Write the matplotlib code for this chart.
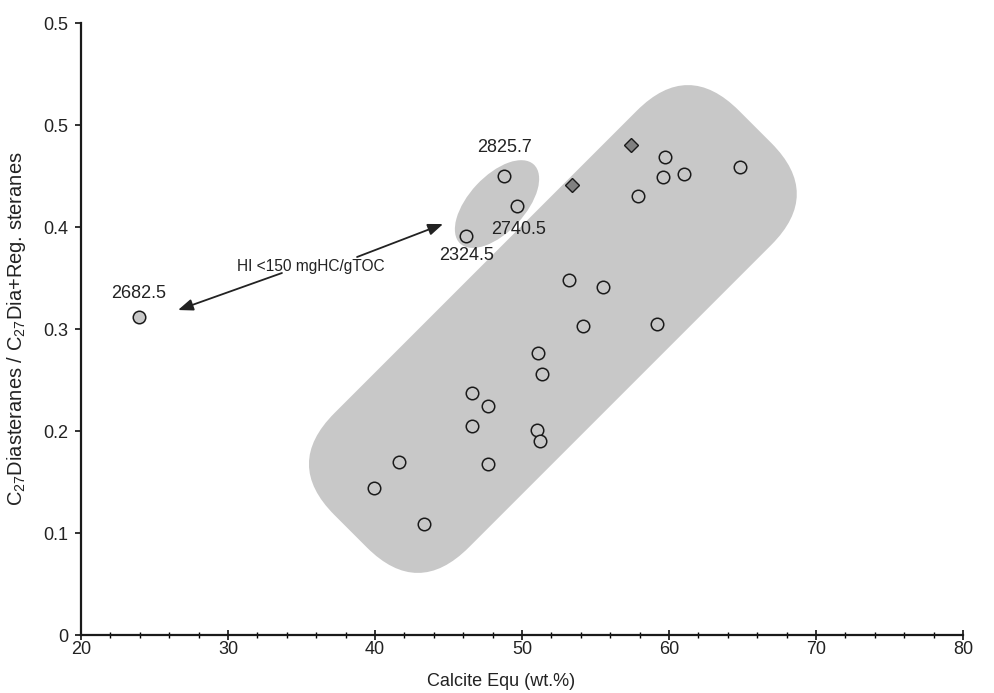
import matplotlib
matplotlib.use("Agg")
import matplotlib.pyplot as plt
from matplotlib.patches import FancyBboxPatch, Ellipse
from matplotlib.transforms import Affine2D, ScaledTranslation
import numpy as np

plt.rcParams['font.family'] = ['Liberation Sans', 'DejaVu Sans']
plt.rcParams['mathtext.fontset'] = 'custom'
plt.rcParams['mathtext.rm'] = 'Liberation Sans'
plt.rcParams['mathtext.it'] = 'Liberation Sans:italic'

# ---- data ----
circle_x = [59.7, 59.6, 61.0, 57.9, 64.8, 53.2, 55.5, 54.15, 59.2,
            51.1, 51.35, 46.6, 47.7, 46.6, 51.0, 51.2, 41.6, 47.7, 39.9, 43.3]
circle_y = [0.469, 0.449, 0.452, 0.430, 0.459, 0.348, 0.341, 0.303, 0.305,
            0.276, 0.256, 0.237, 0.225, 0.205, 0.201, 0.190, 0.170, 0.168, 0.144, 0.109]
diamond_x = [53.4, 57.4]
diamond_y = [0.441, 0.480]
lowhi_x = [23.95, 46.2, 49.65, 48.8]
lowhi_y = [0.312, 0.391, 0.421, 0.450]
lowhi_labels = ["2682.5", "2324.5", "2740.5", "2825.7"]
label_pos = [(23.95, 0.335), (46.2, 0.3725), (49.75, 0.398), (48.8, 0.4775)]

x_ticks = [20, 30, 40, 50, 60, 70, 80]
y_ticks = [0, 0.1, 0.2, 0.3, 0.4, 0.5, 0.6]
y_tick_labels = ["0", "0.1", "0.2", "0.3", "0.4", "0.5", "0.5"]

W, H = 994, 693
fig = plt.figure(figsize=(W / 100, H / 100), dpi=100)
ax = fig.add_axes([81 / W, (H - 635) / H, (963 - 81) / W, (635 - 23) / H])
ax.set_xlim(20, 80)
ax.set_ylim(0, 0.6)

gray = '#c8c8c8'
txt = '#222222'

# big rounded region (in inches, rotated, centered at a data point)
L_in, W_in, r_in = 5.72, 1.90, 0.72
cx, cy = 52.1, 0.300
tr = Affine2D().rotate_deg(45) + fig.dpi_scale_trans + ScaledTranslation(cx, cy, ax.transData)
box = FancyBboxPatch((-L_in / 2, -W_in / 2), L_in, W_in,
                     boxstyle=f"round,pad=0,rounding_size={r_in}",
                     transform=tr, facecolor=gray, edgecolor='none', zorder=1)
ax.add_patch(box)

# ellipse region
tr2 = fig.dpi_scale_trans + ScaledTranslation(48.3, 0.4225, ax.transData)
ell = Ellipse((0, 0), 1.08, 0.56, angle=47, transform=tr2,
              facecolor=gray, edgecolor='none', zorder=1)
ax.add_patch(ell)

ax.plot(circle_x, circle_y, 'o', ms=9, mfc=gray, mec='#1a1a1a', mew=1.1, zorder=3, clip_on=False)
ax.plot(lowhi_x, lowhi_y, 'o', ms=9, mfc=gray, mec='#1a1a1a', mew=1.1, zorder=3, clip_on=False)
ax.plot(diamond_x, diamond_y, 'D', ms=7, mfc='#808080', mec='#1a1a1a', mew=1.0, zorder=3)

for lab, (lx, ly) in zip(lowhi_labels, label_pos):
    ax.text(lx, ly, lab, ha='center', va='center', fontsize=13, color=txt, zorder=4)

ax.text(35.6, 0.361, "HI <150 mgHC/gTOC", ha='center', va='center', fontsize=11.2,
        color=txt, zorder=4)
arrowprops = dict(arrowstyle='-|>,head_length=0.9,head_width=0.35', color=txt,
                  lw=1.3, shrinkA=0, shrinkB=0)
ax.annotate("", xy=(44.63, 0.4029), xytext=(38.78, 0.3706), arrowprops=arrowprops, zorder=4)
ax.annotate("", xy=(26.6, 0.3186), xytext=(33.67, 0.3549), arrowprops=arrowprops, zorder=4)

for s in ['top', 'right']:
    ax.spines[s].set_visible(False)
for s in ['left', 'bottom']:
    ax.spines[s].set_linewidth(1.6)
    ax.spines[s].set_color('#1a1a1a')

ax.set_xticks(x_ticks)
ax.set_xticks(np.arange(20, 81, 2), minor=True)
ax.set_yticks(y_ticks)
ax.set_yticklabels(y_tick_labels)
ax.tick_params(axis='x', which='major', direction='inout', length=7, width=1.3, labelsize=13, pad=1, colors=txt)
ax.tick_params(axis='x', which='minor', direction='inout', length=4, width=1.0)
ax.tick_params(axis='y', which='major', direction='out', length=4, width=1.3, labelsize=13, pad=5, colors=txt)

ax.set_xlabel("Calcite Equ (wt.%)", fontsize=13, color=txt)
ax.xaxis.set_label_coords((501 - 81) / (963 - 81), -0.062)
ax.set_ylabel(r"C$_{27}$Diasteranes / C$_{27}$Dia+Reg. steranes", fontsize=14.5, color=txt)
ax.yaxis.set_label_coords(-(81 - 28) / (963 - 81), 0.5)

fig.savefig("out.png", dpi=100)
